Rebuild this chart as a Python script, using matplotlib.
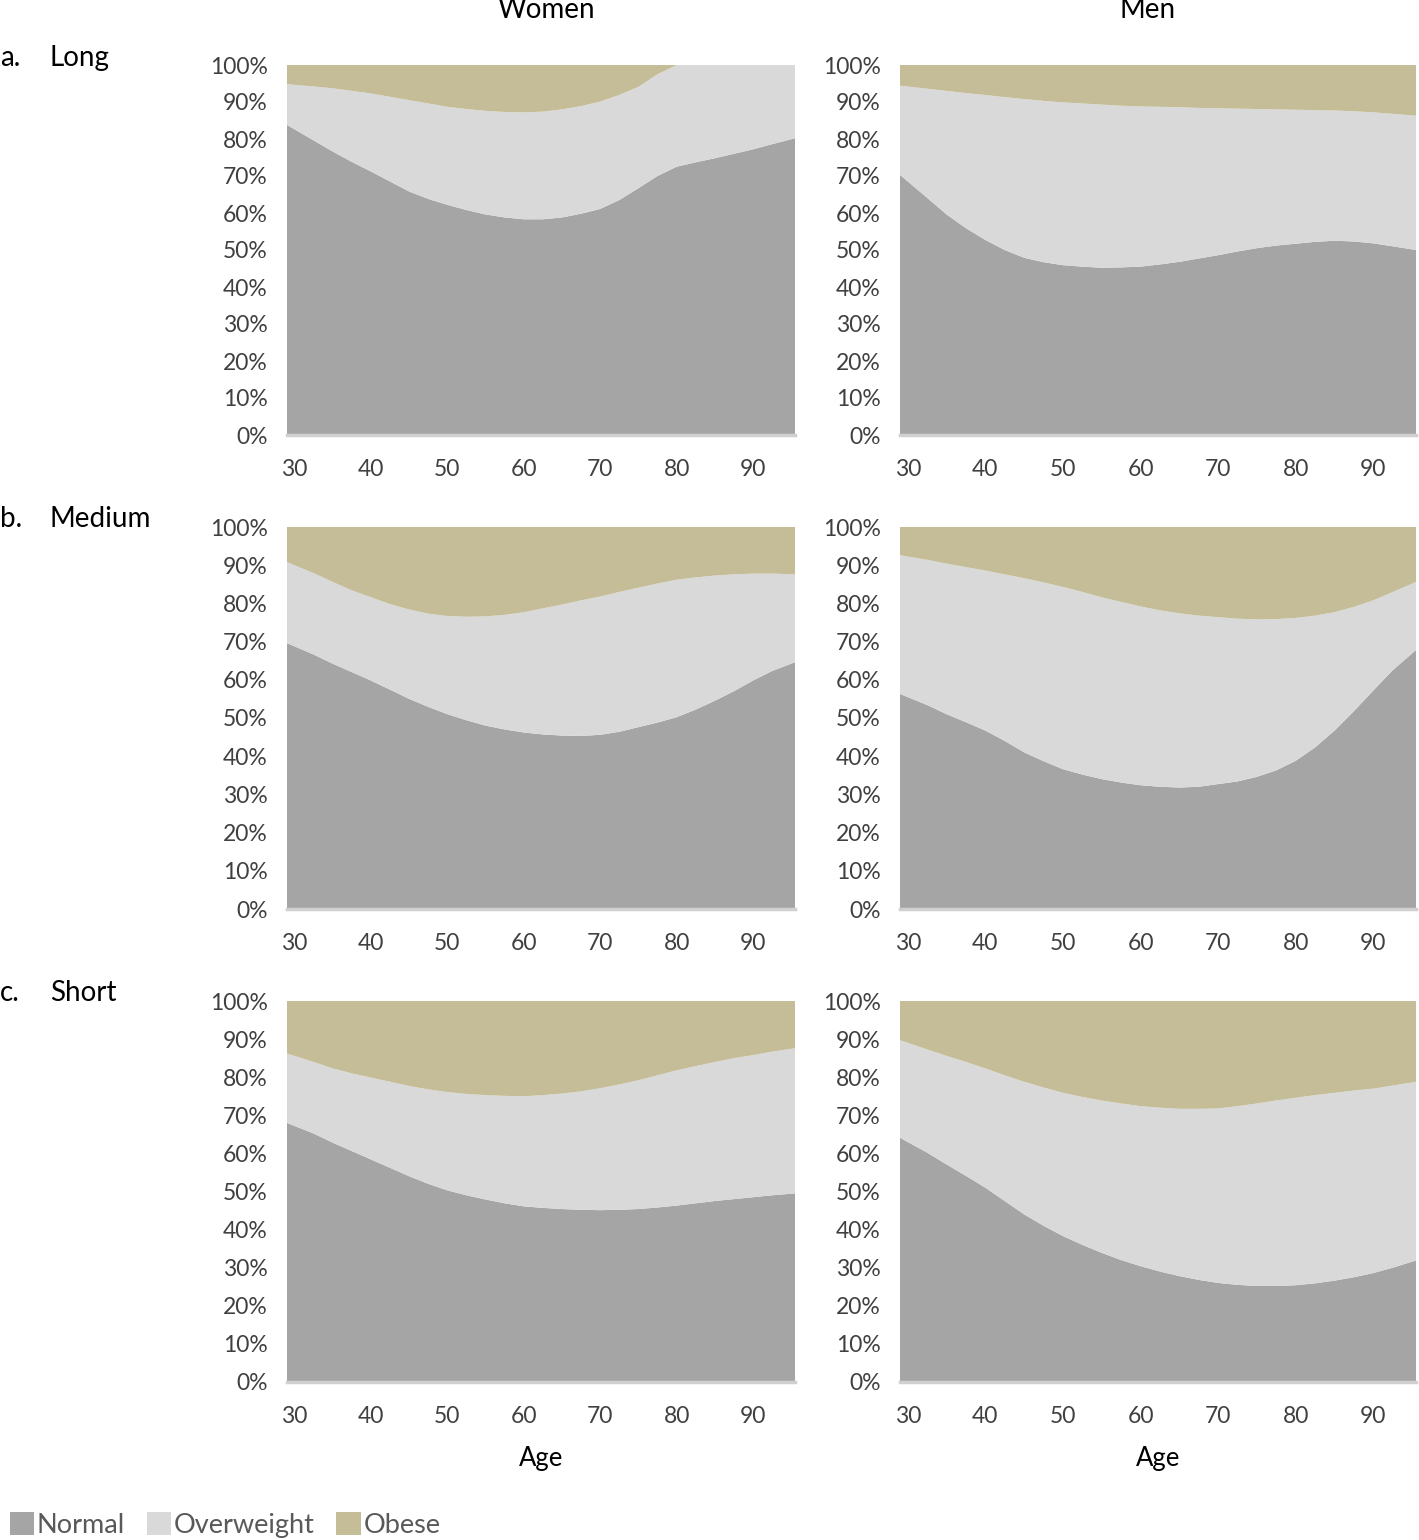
import matplotlib
matplotlib.use("Agg")
import matplotlib.pyplot as plt
from matplotlib.patches import Patch

# ---------------- data (percent of population) ----------------
ages = [29, 32.5, 35, 37.5, 40, 42.5, 45, 47.5, 50, 52.5, 55, 57.5, 60, 62.5, 65,
        67.5, 70, 72.5, 75, 77.5, 80, 82.5, 85, 87.5, 90, 92.5, 95.5]

# a. Long
women_long_normal     = [83.8, 79.6, 76.6, 73.8, 71.2, 68.5, 65.8, 63.8, 62.2, 60.8, 59.6, 58.8, 58.3, 58.3,
                         58.8, 59.8, 61.1, 63.5, 66.7, 70.0, 72.5, 73.7, 74.8, 76.0, 77.2, 78.6, 80.2]
women_long_overweight = [11.0, 14.6, 17.1, 19.2, 21.1, 22.9, 24.7, 25.8, 26.5, 27.3, 28.0, 28.5, 28.9, 29.1,
                         29.2, 29.1, 29.0, 28.4, 27.4, 27.5, 27.5, 26.3, 25.2, 24.0, 22.8, 21.4, 19.8]
women_long_obese      = [5.2, 5.8, 6.3, 7.0, 7.7, 8.6, 9.5, 10.4, 11.3, 11.9, 12.4, 12.7, 12.8, 12.6,
                         12.0, 11.1, 9.9, 8.1, 5.9, 2.5, 0.0, 0.0, 0.0, 0.0, 0.0, 0.0, 0.0]

men_long_normal       = [70.3, 64.1, 59.6, 55.9, 52.7, 50.0, 47.9, 46.7, 45.9, 45.5, 45.2, 45.3, 45.5, 46.1,
                         46.8, 47.7, 48.6, 49.6, 50.5, 51.2, 51.7, 52.2, 52.5, 52.3, 51.8, 51.0, 50.0]
men_long_overweight   = [24.1, 29.5, 33.4, 36.5, 39.2, 41.3, 42.9, 43.6, 44.0, 44.1, 44.1, 43.7, 43.3, 42.6,
                         41.8, 40.7, 39.7, 38.6, 37.6, 36.8, 36.2, 35.6, 35.2, 35.2, 35.4, 35.8, 36.3]
men_long_obese        = [5.6, 6.4, 7.0, 7.6, 8.1, 8.7, 9.2, 9.7, 10.1, 10.4, 10.7, 11.0, 11.2, 11.3,
                         11.4, 11.6, 11.7, 11.8, 11.9, 12.0, 12.1, 12.2, 12.3, 12.5, 12.8, 13.2, 13.7]

# b. Medium
women_medium_normal     = [69.6, 66.6, 64.2, 62.0, 59.8, 57.4, 55.0, 52.9, 51.0, 49.4, 48.0, 47.0, 46.2, 45.7,
                           45.4, 45.3, 45.6, 46.4, 47.6, 48.8, 50.2, 52.2, 54.5, 57.0, 59.8, 62.3, 64.6]
women_medium_overweight = [21.2, 21.3, 21.4, 21.4, 21.8, 22.4, 23.4, 24.4, 25.7, 27.1, 28.6, 30.0, 31.5, 33.0,
                           34.3, 35.5, 36.2, 36.6, 36.5, 36.4, 36.0, 34.6, 32.8, 30.6, 28.0, 25.5, 23.0]
women_medium_obese      = [9.2, 12.1, 14.4, 16.6, 18.4, 20.2, 21.6, 22.7, 23.3, 23.5, 23.4, 23.0, 22.3, 21.3,
                           20.3, 19.2, 18.2, 17.0, 15.9, 14.8, 13.8, 13.2, 12.7, 12.4, 12.2, 12.2, 12.4]

men_medium_normal       = [56.3, 53.4, 51.0, 48.9, 46.7, 44.0, 41.0, 38.7, 36.6, 35.2, 34.0, 33.1, 32.4, 32.0,
                           31.8, 32.0, 32.7, 33.4, 34.6, 36.3, 38.8, 42.3, 46.7, 51.8, 57.2, 62.5, 67.8]
men_medium_overweight   = [36.3, 38.0, 39.4, 40.6, 41.9, 43.6, 45.6, 46.8, 47.7, 47.8, 47.6, 47.3, 46.8, 46.2,
                           45.6, 44.8, 43.7, 42.6, 41.2, 39.6, 37.4, 34.5, 31.0, 27.3, 23.6, 20.5, 17.8]
men_medium_obese        = [7.4, 8.6, 9.6, 10.5, 11.4, 12.4, 13.4, 14.5, 15.7, 17.0, 18.4, 19.6, 20.8, 21.8,
                           22.6, 23.2, 23.6, 24.0, 24.2, 24.1, 23.8, 23.2, 22.3, 20.9, 19.2, 17.0, 14.4]

# c. Short
women_short_normal      = [68.0, 65.2, 62.8, 60.6, 58.4, 56.2, 54.0, 52.0, 50.3, 49.0, 47.9, 46.9, 46.1, 45.7,
                           45.4, 45.2, 45.1, 45.2, 45.4, 45.8, 46.3, 46.9, 47.5, 48.0, 48.5, 49.0, 49.5]
women_short_overweight  = [18.2, 18.8, 19.5, 20.4, 21.5, 22.6, 23.7, 24.8, 25.8, 26.6, 27.4, 28.2, 28.9, 29.6,
                           30.3, 31.1, 32.0, 32.9, 33.8, 34.7, 35.5, 36.0, 36.5, 37.0, 37.3, 37.7, 38.1]
women_short_obese       = [13.8, 16.0, 17.7, 19.0, 20.1, 21.2, 22.3, 23.2, 23.9, 24.4, 24.7, 24.9, 25.0, 24.7,
                           24.3, 23.7, 22.9, 21.9, 20.8, 19.5, 18.2, 17.1, 16.0, 15.0, 14.2, 13.3, 12.4]

men_short_normal        = [64.1, 60.2, 57.1, 54.1, 51.0, 47.5, 44.0, 41.0, 38.3, 36.0, 33.9, 32.0, 30.4, 29.0,
                           27.8, 26.8, 26.0, 25.5, 25.2, 25.2, 25.4, 25.9, 26.6, 27.5, 28.6, 30.0, 31.9]
men_short_overweight    = [25.6, 27.1, 28.5, 29.9, 31.3, 33.0, 34.8, 36.3, 37.6, 38.8, 40.0, 41.1, 42.0, 43.0,
                           43.9, 44.9, 45.8, 46.9, 47.9, 48.7, 49.2, 49.4, 49.3, 49.0, 48.4, 47.8, 46.9]
men_short_obese         = [10.3, 12.7, 14.4, 16.0, 17.7, 19.5, 21.2, 22.7, 24.1, 25.2, 26.1, 26.9, 27.6, 28.0,
                           28.3, 28.3, 28.2, 27.6, 26.9, 26.1, 25.4, 24.7, 24.1, 23.5, 23.0, 22.2, 21.2]

categories = ["Normal", "Overweight", "Obese"]
row_letters = ["a.", "b.", "c."]
row_names = ["Long", "Medium", "Short"]
col_names = ["Women", "Men"]
x_ticks = [30, 40, 50, 60, 70, 80, 90]
y_ticks = list(range(0, 101, 10))
y_tick_labels = [f"{v}%" for v in y_ticks]

panels = [
    [(women_long_normal, women_long_overweight, women_long_obese),
     (men_long_normal, men_long_overweight, men_long_obese)],
    [(women_medium_normal, women_medium_overweight, women_medium_obese),
     (men_medium_normal, men_medium_overweight, men_medium_obese)],
    [(women_short_normal, women_short_overweight, women_short_obese),
     (men_short_normal, men_short_overweight, men_short_obese)],
]

# ---------------- style ----------------
colors = ["#A5A5A5", "#D9D9D9", "#C4BD97"]
plt.rcParams["font.family"] = ["Lato", "DejaVu Sans"]
tick_color = "#404040"

W, H = 1419, 1540
fig = plt.figure(figsize=(W / 100, H / 100), dpi=100)

col_lr = [(287, 795), (900, 1416)]
row_tb = [(65, 435), (527, 909), (1001, 1382)]

for r in range(3):
    for c in range(2):
        l, rr = col_lr[c]
        t, b = row_tb[r]
        ax = fig.add_axes([l / W, 1 - b / H, (rr - l) / W, (b - t) / H])
        n, o, ob = panels[r][c]
        ax.stackplot(ages, n, o, ob, colors=colors, linewidth=0)
        ax.set_xlim(29, 95.5)
        ax.set_ylim(0, 100)
        ax.set_xticks(x_ticks)
        ax.set_yticks(y_ticks)
        ax.set_yticklabels(y_tick_labels)
        ax.tick_params(axis="both", length=0, labelsize=16.5, colors=tick_color)
        ax.tick_params(axis="y", pad=14)
        ax.tick_params(axis="x", pad=17)
        for s in ["top", "right", "left"]:
            ax.spines[s].set_visible(False)
        ax.spines["bottom"].set_color("#D0D0D0")
        ax.spines["bottom"].set_linewidth(2.5)
        if r == 2:
            ax.set_xlabel("Age", fontsize=18.5, color="black", labelpad=14)

# column titles
fig.text(546 / W, 1 - 10 / H, col_names[0], fontsize=20, ha="center", va="center", color="black")
fig.text(1148 / W, 1 - 10 / H, col_names[1], fontsize=20, ha="center", va="center", color="black")

# row labels
row_label_y = [58, 519, 993]
for i in range(3):
    fig.text(0 / W, 1 - row_label_y[i] / H, row_letters[i], fontsize=20, ha="left", va="center", color="black")
    fig.text(50 / W, 1 - row_label_y[i] / H, row_names[i], fontsize=20, ha="left", va="center", color="black")

# legend
handles = [Patch(facecolor=colors[i], edgecolor="none") for i in range(3)]
leg = fig.legend(handles, categories, loc="lower left", bbox_to_anchor=(0.003, -0.002), ncol=3,
                 frameon=False, fontsize=19.5, handlelength=0.9, handleheight=0.9,
                 handletextpad=0.1, columnspacing=0.8, borderaxespad=0.0, borderpad=0.2)
for txt in leg.get_texts():
    txt.set_color("#595959")

fig.savefig("out.png", dpi=100)
